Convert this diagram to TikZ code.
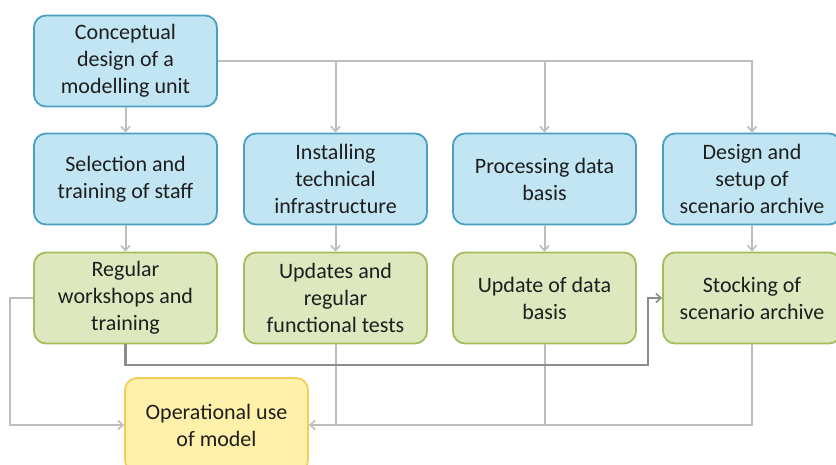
\documentclass[tikz,border=0pt]{standalone}
\usepackage{fontspec}
\setmainfont{Carlito}
\usetikzlibrary{arrows.meta}

\definecolor{bluefill}{HTML}{C2E5F3}
\definecolor{blueline}{HTML}{4B9FBF}
\definecolor{greenfill}{HTML}{DDE8BF}
\definecolor{greenline}{HTML}{A3BD5C}
\definecolor{yellowfill}{HTML}{FFF0AA}
\definecolor{yellowline}{HTML}{F3CD58}
\definecolor{linkgray}{HTML}{BDBDBD}
\definecolor{darklink}{HTML}{8C8C8C}
\definecolor{inktext}{HTML}{1E1E1E}

\tikzset{
  box/.style={rectangle, rounded corners=12pt, line width=1.8pt,
    minimum width=183pt, minimum height=91pt, align=center,
    inner sep=2pt, text=inktext,
    font=\fontsize{22}{27}\selectfont},
  bluebox/.style={box, fill=bluefill, draw=blueline},
  greenbox/.style={box, fill=greenfill, draw=greenline},
  yellowbox/.style={box, fill=yellowfill, draw=yellowline, minimum height=94pt},
  tip/.style={-{Straight Barb[length=5pt,width=9pt,line width=1.6pt]}},
  conn/.style={draw=linkgray, line width=2pt},
  dconn/.style={draw=darklink, line width=2.4pt},
}

\begin{document}
\begin{tikzpicture}[x=1pt,y=-1pt]
  \useasboundingbox (0,0) rectangle (836,464);
  \clip (0,0) rectangle (836,464);

  % boxes
  \node[bluebox] (top) at (125.5,61) {Conceptual\\design of a\\modelling unit};

  \node[bluebox] (b1) at (125.5,179) {Selection and\\training of staff};
  \node[bluebox] (b2) at (335.5,179) {Installing\\technical\\infrastructure};
  \node[bluebox] (b3) at (544.5,179) {Processing data\\basis};
  \node[bluebox, minimum width=178pt] (b4) at (752,179) {Design and\\setup of\\scenario archive};

  \node[greenbox] (g1) at (125.5,298) {Regular\\workshops and\\training};
  \node[greenbox] (g2) at (335.5,298) {Updates and\\regular\\functional tests};
  \node[greenbox] (g3) at (544.5,298) {Update of data\\basis};
  \node[greenbox, minimum width=178pt] (g4) at (752,298) {Stocking of\\scenario archive};

  \node[yellowbox] (op) at (216.5,425) {Operational use\\of model};

  % helper points for the routed links
  \coordinate (lft) at (10,298);
  \coordinate (mid) at (648,365);

  % links from the conceptual design
  \draw[conn,tip] (top) -- (b1);
  \draw[conn,tip] (top.east) -| (b4.north);
  \draw[conn,tip] (top.east -| b2.north) -- (b2.north);
  \draw[conn,tip] (top.east -| b3.north) -- (b3.north);

  % links between the two rows
  \draw[conn,tip] (b1) -- (g1);
  \draw[conn,tip] (b2) -- (g2);
  \draw[conn,tip] (b3) -- (g3);
  \draw[conn,tip] (b4) -- (g4);

  % links into operational use
  \draw[conn,tip] (g1.west) -- (g1.west -| lft) |- (op.west);
  \draw[conn] (g2.south) -- (g2.south |- op.east);
  \draw[conn] (g3.south) -- (g3.south |- op.east);
  \draw[conn,tip] (g4.south) |- (op.east);

  % workshops feed the scenario archive
  \draw[dconn,tip] (g1.south) |- (mid) |- (g4.west);
\end{tikzpicture}
\end{document}
